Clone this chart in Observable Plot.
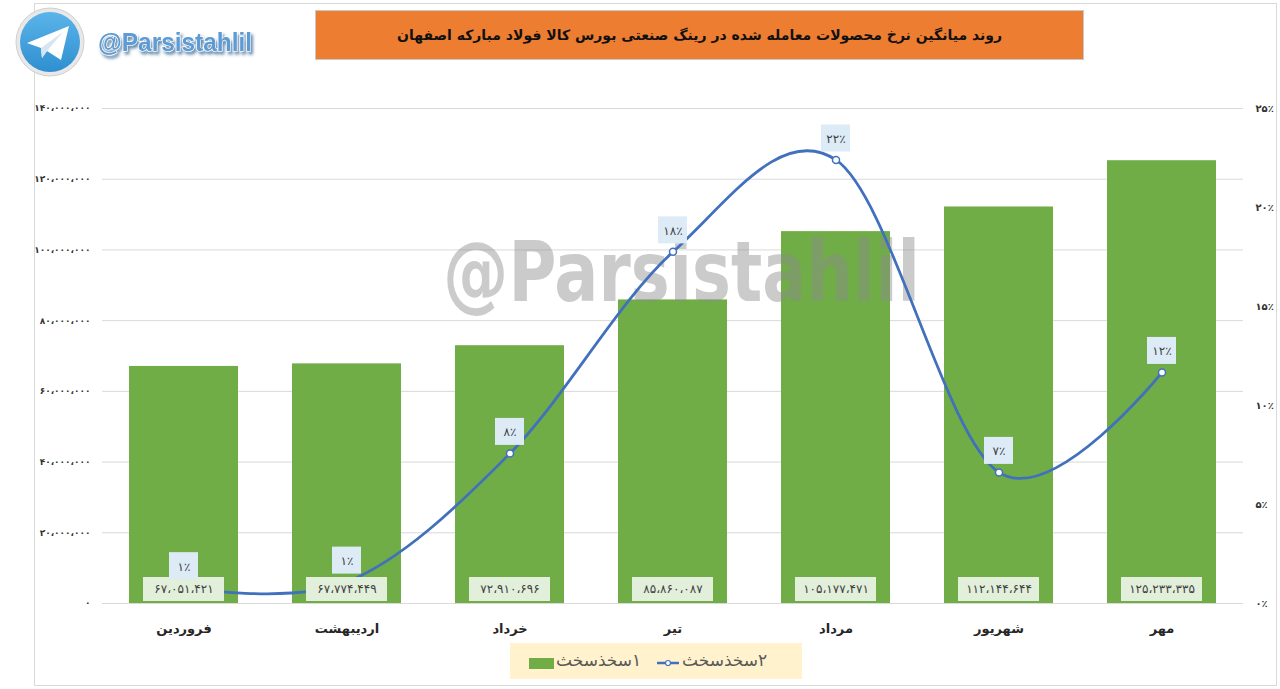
<!DOCTYPE html>
<html><head><meta charset="utf-8">
<script src="https://cdn.jsdelivr.net/npm/d3@7"></script>
<script src="https://cdn.jsdelivr.net/npm/@observablehq/plot@0.6"></script>
<style>
body{margin:0;background:#fff;}
#wrap{position:relative;width:1280px;height:689px;overflow:hidden;font-family:"DejaVu Sans",sans-serif;}
#wrap > svg{position:absolute;left:0;top:0;}
#border{position:absolute;left:34px;top:3px;width:1243px;height:683px;border:1px solid #d9d9d9;box-sizing:border-box;}
#title{position:absolute;left:315px;top:10px;width:769px;height:50px;background:#ED7D31;border:1px solid #c8c8c8;box-sizing:border-box;
  display:flex;align-items:center;justify-content:center;direction:rtl;font-weight:bold;font-size:14px;color:#111;}
#legend{position:absolute;left:510px;top:643px;width:292px;height:36px;background:#FFF2CC;}
.lt{position:absolute;top:7px;font-size:17px;color:#595959;direction:rtl;unicode-bidi:embed;white-space:nowrap;}
</style></head>
<body><div id="wrap"><div id="border"></div></div>
<script>
const months = ["فروردین","اردیبهشت","خرداد","تیر","مرداد","شهریور","مهر"];
const prices = [67051421, 67774449, 72910696, 85860087, 105177471, 112144644, 125233335];
const growth = [0.8, 1.08, 7.58, 17.76, 22.4, 6.62, 11.67];
const leftTicks = [0, 20e6, 40e6, 60e6, 80e6, 100e6, 120e6, 140e6];
const rightTicks = [0, 5, 10, 15, 20, 25];
const seriesNames = ["۱سخذسخث", "۲سخذسخث"];
const titleText = "روند میانگین نرخ محصولات معامله شده در رینگ صنعتی بورس کالا فولاد مبارکه اصفهان";
const brand = "@Parsistahlil";

const faDigits = s => String(s).replace(/\d/g, d => "۰۱۲۳۴۵۶۷۸۹"[d]);
const faNum = v => faDigits(d3.format(",")(v)).replace(/,/g, "،");
const faPct = v => faDigits(v) + "٪";

const k = 140e6 / 25; // percent -> left-axis units
const data = months.map((m, i) => ({month: m, price: prices[i], pct: growth[i], pv: growth[i] * k}));

const barColor = "#70AD47", lineColor = "#4170BD";

const watermark = () => d3.create("svg:text")
  .attr("x", 443).attr("y", 301).attr("text-anchor", "start")
  .attr("font-family", "'DejaVu Sans Condensed','DejaVu Sans',sans-serif")
  .attr("font-weight", "bold").attr("font-size", 84)
  .attr("textLength", 477).attr("lengthAdjust", "spacingAndGlyphs")
  .attr("fill", "#8c8c8c").attr("fill-opacity", 0.45)
  .text(brand).node();

const chart = Plot.plot({
  width: 1280, height: 689,
  marginTop: 108, marginBottom: 86, marginLeft: 102, marginRight: 37,
  x: {domain: months, paddingInner: 0.33, paddingOuter: 0.165, label: null},
  y: {domain: [0, 140e6], label: null},
  style: {fontFamily: "'DejaVu Sans',sans-serif", background: "transparent", color: "#262626"},
  marks: [
    Plot.gridY(leftTicks, {stroke: "#d9d9d9", strokeOpacity: 1}),
    Plot.axisY(leftTicks, {anchor: "left", tickSize: 0, tickPadding: 12, tickFormat: faNum, fontSize: 9, fontWeight: "bold", fill: "#333", label: null}),
    Plot.axisY(rightTicks.map(t => t * k), {anchor: "right", tickSize: 0, tickPadding: 12, tickFormat: v => faPct(Math.round(v / k)), fontSize: 10, fontWeight: "bold", fill: "#333", label: null}),
    Plot.axisX({tickSize: 0, tickPadding: 20, fontSize: 13, fontWeight: "bold", fill: "#262626", label: null}),
    Plot.barY(data, {x: "month", y: "price", fill: barColor}),
    watermark,
    Plot.line(data, {x: "month", y: "pv", curve: "cardinal", stroke: lineColor, strokeWidth: 2.75}),
    Plot.dot(data, {x: "month", y: "pv", r: 3.5, fill: "white", stroke: lineColor, strokeWidth: 1.5}),
    Plot.barY(data, {x: "month", y1: 0, y2: 0, insetTop: -26, insetBottom: 2, insetLeft: 14, insetRight: 14, fill: "#E2EFDA"}),
    Plot.text(data, {x: "month", y: 0, dy: -14, text: d => faNum(d.price), fontSize: 12, fill: "#404040"}),
    Plot.barY(data, {x: "month", y1: "pv", y2: "pv", insetTop: -35, insetBottom: 8, insetLeft: 40, insetRight: 40, fill: "#DDEBF7"}),
    Plot.text(data, {x: "month", y: "pv", dy: -21, text: d => faPct(Math.round(d.pct)), fontSize: 12, fill: "#404040"})
  ]
});
const wrap = document.getElementById("wrap");
wrap.appendChild(chart);

// title
const t = document.createElement("div");
t.id = "title"; t.textContent = titleText; wrap.appendChild(t);

// logo
const logo = d3.create("svg").attr("width", 270).attr("height", 85).style("left", "0px").style("top", "0px");
const defs = logo.append("defs");
const g1 = defs.append("linearGradient").attr("id", "tg").attr("x1", 0).attr("y1", 0).attr("x2", 0).attr("y2", 1);
g1.append("stop").attr("offset", "0").attr("stop-color", "#5BB4EA");
g1.append("stop").attr("offset", "1").attr("stop-color", "#2F8FCF");
const f = defs.append("filter").attr("id", "sh").attr("x", "-10%").attr("y", "-10%").attr("width", "130%").attr("height", "150%");
f.append("feDropShadow").attr("dx", 2).attr("dy", 3).attr("stdDeviation", 1.5).attr("flood-color", "#2a5f8a").attr("flood-opacity", 0.7);
logo.append("circle").attr("cx", 50).attr("cy", 42).attr("r", 34).attr("fill", "#e8e8e8").attr("stroke", "#cfcfcf");
logo.append("circle").attr("cx", 50).attr("cy", 42).attr("r", 30).attr("fill", "url(#tg)");
logo.append("path").attr("d", "M27,43 L69,26 L61,60 L47,51 L42,58 L41,48 Z").attr("fill", "#fff");
logo.append("path").attr("d", "M41,48 L63,32 L47,51 L42,58 Z").attr("fill", "#d5e6f2");
logo.append("text").attr("x", 98).attr("y", 51).attr("font-family", "'Liberation Sans',Arial,sans-serif")
  .attr("font-weight", "bold").attr("font-size", 25).attr("fill", "#5B9BD5").attr("stroke", "#fff").attr("stroke-width", 1.2)
  .attr("paint-order", "stroke").attr("filter", "url(#sh)").attr("textLength", 154).attr("lengthAdjust", "spacingAndGlyphs").text(brand);
wrap.appendChild(logo.node());

// legend
const lg = document.createElement("div"); lg.id = "legend"; wrap.appendChild(lg);
const sq = document.createElement("div");
Object.assign(sq.style, {position: "absolute", left: "19px", top: "15px", width: "25px", height: "11px", background: barColor});
lg.appendChild(sq);
const l1 = document.createElement("span"); l1.className = "lt"; l1.style.left = "46px"; l1.textContent = seriesNames[0]; lg.appendChild(l1);
const li = d3.create("svg").attr("width", 22).attr("height", 10).style("position", "absolute").style("left", "147px").style("top", "15px");
li.append("line").attr("x1", 0).attr("x2", 22).attr("y1", 5).attr("y2", 5).attr("stroke", lineColor).attr("stroke-width", 2.5);
li.append("circle").attr("cx", 11).attr("cy", 5).attr("r", 2.5).attr("fill", "white").attr("stroke", lineColor).attr("stroke-width", 1.2);
lg.appendChild(li.node());
const l2 = document.createElement("span"); l2.className = "lt"; l2.style.left = "172px"; l2.textContent = seriesNames[1]; lg.appendChild(l2);
</script>
</body></html>
